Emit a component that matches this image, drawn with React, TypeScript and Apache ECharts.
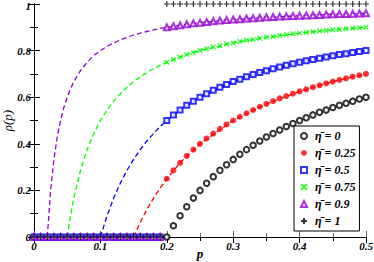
import React, { useEffect, useRef } from "react";
import * as echarts from "echarts";

const pValues = [
  0, 0.01, 0.02, 0.03, 0.04, 0.05, 0.06, 0.07, 0.08, 0.09,
  0.1, 0.11, 0.12, 0.13, 0.14, 0.15, 0.16, 0.17, 0.18, 0.19,
  0.2, 0.21, 0.22, 0.23, 0.24, 0.25, 0.26, 0.27, 0.28, 0.29,
  0.3, 0.31, 0.32, 0.33, 0.34, 0.35, 0.36, 0.37, 0.38, 0.39,
  0.4, 0.41, 0.42, 0.43, 0.44, 0.45, 0.46, 0.47, 0.48, 0.49, 0.5,
];

const rhoEta0 = [
  0, 0, 0, 0, 0, 0, 0, 0, 0, 0, 0, 0, 0, 0, 0, 0, 0, 0, 0, 0,
  0, 0.048, 0.091, 0.13, 0.167, 0.2, 0.231, 0.259, 0.286, 0.31,
  0.333, 0.355, 0.375, 0.394, 0.412, 0.429, 0.444, 0.459, 0.474, 0.487,
  0.5, 0.512, 0.524, 0.535, 0.545, 0.556, 0.565, 0.574, 0.583, 0.592, 0.6,
];
const rhoEta025 = [
  0, 0, 0, 0, 0, 0, 0, 0, 0, 0, 0, 0, 0, 0, 0, 0, 0, 0, 0, 0,
  0.25, 0.286, 0.318, 0.348, 0.375, 0.4, 0.423, 0.444, 0.464, 0.483,
  0.5, 0.516, 0.531, 0.545, 0.559, 0.571, 0.583, 0.595, 0.605, 0.615,
  0.625, 0.634, 0.643, 0.651, 0.659, 0.667, 0.674, 0.681, 0.688, 0.694, 0.7,
];
const rhoEta05 = [
  0, 0, 0, 0, 0, 0, 0, 0, 0, 0, 0, 0, 0, 0, 0, 0, 0, 0, 0, 0,
  0.5, 0.524, 0.545, 0.565, 0.583, 0.6, 0.615, 0.63, 0.643, 0.655,
  0.667, 0.677, 0.688, 0.697, 0.706, 0.714, 0.722, 0.73, 0.737, 0.744,
  0.75, 0.756, 0.762, 0.767, 0.773, 0.778, 0.783, 0.787, 0.792, 0.796, 0.8,
];
const rhoEta075 = [
  0, 0, 0, 0, 0, 0, 0, 0, 0, 0, 0, 0, 0, 0, 0, 0, 0, 0, 0, 0,
  0.75, 0.762, 0.773, 0.783, 0.792, 0.8, 0.808, 0.815, 0.821, 0.828,
  0.833, 0.839, 0.844, 0.848, 0.853, 0.857, 0.861, 0.865, 0.868, 0.872,
  0.875, 0.878, 0.881, 0.884, 0.886, 0.889, 0.891, 0.894, 0.896, 0.898, 0.9,
];
const rhoEta09 = [
  0, 0, 0, 0, 0, 0, 0, 0, 0, 0, 0, 0, 0, 0, 0, 0, 0, 0, 0, 0,
  0.9, 0.905, 0.909, 0.913, 0.917, 0.92, 0.923, 0.926, 0.929, 0.931,
  0.933, 0.935, 0.938, 0.939, 0.941, 0.943, 0.944, 0.946, 0.947, 0.949,
  0.95, 0.951, 0.952, 0.953, 0.955, 0.956, 0.957, 0.957, 0.958, 0.959, 0.96,
];
const rhoEta1 = [
  0, 0, 0, 0, 0, 0, 0, 0, 0, 0, 0, 0, 0, 0, 0, 0, 0, 0, 0, 0,
  1, 1, 1, 1, 1, 1, 1, 1, 1, 1,
  1, 1, 1, 1, 1, 1, 1, 1, 1, 1,
  1, 1, 1, 1, 1, 1, 1, 1, 1, 1, 1,
];

const theoryP = [
  0.02, 0.025, 0.03, 0.035, 0.04, 0.045, 0.05, 0.055, 0.06, 0.07,
  0.08, 0.09, 0.1, 0.11, 0.12, 0.13, 0.14, 0.15, 0.16, 0.17,
  0.18, 0.19, 0.2, 0.22, 0.25, 0.3, 0.35, 0.4, 0.45, 0.5,
];
const theoryEta09 = [
  0, 0.2, 0.333, 0.429, 0.5, 0.556, 0.6, 0.636, 0.667, 0.714,
  0.75, 0.778, 0.8, 0.818, 0.833, 0.846, 0.857, 0.867, 0.875, 0.882,
  0.889, 0.895, 0.9, 0.909, 0.92, 0.933, 0.943, 0.95, 0.956, 0.96,
];
const theoryEta075 = [
  null, null, null, null, null, null, 0, 0.091, 0.167, 0.286,
  0.375, 0.444, 0.5, 0.545, 0.583, 0.615, 0.643, 0.667, 0.688, 0.706,
  0.722, 0.737, 0.75, 0.773, 0.8, 0.833, 0.857, 0.875, 0.889, 0.9,
];
const theoryEta05 = [
  null, null, null, null, null, null, null, null, null, null,
  null, null, 0, 0.091, 0.167, 0.231, 0.286, 0.333, 0.375, 0.412,
  0.444, 0.474, 0.5, 0.545, 0.6, 0.667, 0.714, 0.75, 0.778, 0.8,
];
const theoryEta025 = [
  null, null, null, null, null, null, null, null, null, null,
  null, null, null, null, null, null, null, 0, 0.063, 0.118,
  0.167, 0.211, 0.25, 0.318, 0.4, 0.5, 0.571, 0.625, 0.667, 0.7,
];

const seriesNames = ["η\u0304 = 0", "η\u0304 = 0.25", "η\u0304 = 0.5", "η\u0304 = 0.75", "η\u0304 = 0.9", "η\u0304 = 1"];
const xTickLabels = ["0", "0.1", "0.2", "0.3", "0.4", "0.5"];
const yTickLabels = ["0", "0.2", "0.4", "0.6", "0.8", "1"];

const FONT = "'Liberation Serif', 'Times New Roman', serif";

function pairs(xs: number[], ys: (number | null)[]) {
  const out: number[][] = [];
  xs.forEach((x, i) => {
    const y = ys[i];
    if (y !== null && y !== undefined) out.push([x, y]);
  });
  return out;
}

export default function App() {
  const ref = useRef<HTMLDivElement>(null);
  useEffect(() => {
    if (!ref.current) return;
    const chart = echarts.init(ref.current, undefined, { renderer: "svg" });
    const labelStyle = {
      fontFamily: FONT,
      fontWeight: "bold" as const,
      fontStyle: "italic" as const,
      fontSize: 11,
      color: "#000",
    };
    const axisCommon = {
      type: "value" as const,
      splitLine: { show: false },
      axisLine: { show: true, lineStyle: { color: "#000", width: 1 } },
      axisTick: { show: true, inside: true, length: 6, lineStyle: { color: "#000" } },
      minorTick: { show: true, splitNumber: 2, length: 4, lineStyle: { color: "#000" } },
    };
    const dashed = (data: number[][], color: string) => ({
      type: "line" as const,
      data,
      showSymbol: false,
      symbol: "none",
      silent: true,
      smooth: false,
      z: 1,
      lineStyle: { color, width: 1.3, type: [5, 3] as any },
      xAxisIndex: 0,
      yAxisIndex: 0,
    });
    const scatter = (name: string, ys: number[], symbol: string, size: number, itemStyle: any) => ({
      type: "scatter" as const,
      name,
      data: pairs(pValues, ys),
      symbol,
      symbolSize: size,
      itemStyle,
      clip: false,
      z: 3,
      xAxisIndex: 0,
      yAxisIndex: 0,
    });
    chart.setOption({
      animation: false,
      backgroundColor: "#fff",
      grid: { left: 34, right: 8, top: 4, bottom: 25, containLabel: false, outerBoundsMode: "none" },
      xAxis: [
        {
          ...axisCommon,
          position: "bottom",
          min: 0,
          max: 0.5,
          interval: 0.1,
          axisLine: { show: true, lineStyle: { color: "#666", width: 1.2 } },
          axisTick: { show: true, inside: true, length: 6, lineStyle: { color: "#666" } },
          minorTick: { show: true, splitNumber: 2, length: 4, lineStyle: { color: "#666" } },
          axisLabel: {
            ...labelStyle,
            margin: 3,
            formatter: (v: number) => xTickLabels[Math.round(v * 10)] ?? "",
          },
          name: "p",
          nameLocation: "middle",
          nameGap: 10,
          nameMoveOverlap: false,
          nameTextStyle: { fontFamily: FONT, fontWeight: "bold", fontStyle: "italic", fontSize: 13, color: "#000" },
        },
        {
          ...axisCommon,
          position: "top",
          min: 0,
          max: 0.5,
          interval: 0.1,
          axisLabel: { show: false },
        },
      ],
      yAxis: [
        {
          ...axisCommon,
          position: "left",
          min: 0,
          max: 1,
          interval: 0.2,
          axisLabel: {
            ...labelStyle,
            margin: 3,
            formatter: (v: number) => {
              const idx = Math.round(v * 5);
              const t = yTickLabels[idx] ?? "";
              return idx === 5 ? "{top|" + t + "}" : t;
            },
            rich: {
              top: {
                fontFamily: FONT,
                fontWeight: "bold",
                fontStyle: "italic",
                fontSize: 11,
                color: "#000",
                padding: [4, 0, 0, 0],
              },
            },
          },
          name: "ρ(p)",
          nameLocation: "middle",
          nameGap: 20,
          nameMoveOverlap: false,
          nameRotate: 90,
          nameTextStyle: { fontFamily: FONT, fontStyle: "italic", fontSize: 13, color: "#000" },
        },
        {
          ...axisCommon,
          position: "right",
          min: 0,
          max: 1,
          interval: 0.2,
          axisLabel: { show: false },
        },
      ],
      legend: {
        orient: "vertical",
        left: 294,
        top: 126,
        padding: [4, 4, 4, 6],
        itemGap: 5,
        itemWidth: 6,
        itemHeight: 6,
        borderColor: "#000",
        borderWidth: 1,
        backgroundColor: "#fff",
        borderRadius: 0,
        data: seriesNames,
        textStyle: {
          fontFamily: FONT,
          fontWeight: "bold",
          fontStyle: "italic",
          fontSize: 12,
          color: "#000",
          padding: [0, 0, 0, 3],
        },
      },
      series: [
        dashed(pairs(theoryP, theoryEta025), "#ff0000"),
        dashed(pairs(theoryP, theoryEta05), "#0000ff"),
        dashed(pairs(theoryP, theoryEta075), "#00ff00"),
        dashed(pairs(theoryP, theoryEta09), "#9400d3"),
        scatter(seriesNames[0], rhoEta0, "emptyCircle", 5.5, { color: "#000", borderColor: "#000", borderWidth: 1.1 }),
        scatter(seriesNames[1], rhoEta025, "circle", 6, { color: "#ff0000" }),
        scatter(seriesNames[2], rhoEta05, "emptyRect", 5, { color: "#0000ff", borderColor: "#0000ff", borderWidth: 1.1 }),
        scatter(seriesNames[3], rhoEta075, "path://M0,0L10,10M10,0L0,10", 4.5, {
          color: "#00ff00",
          borderColor: "#00ff00",
          borderWidth: 1.4,
        }),
        scatter(seriesNames[4], rhoEta09, "emptyTriangle", 6, { color: "#9400d3", borderColor: "#9400d3", borderWidth: 1.1 }),
        scatter(seriesNames[5], rhoEta1, "path://M5,0L5,10M0,5L10,5", 6, {
          color: "#000",
          borderColor: "#000",
          borderWidth: 1.2,
        }),
      ],
    });
    return () => chart.dispose();
  }, []);
  return <div ref={ref} style={{ width: 374, height: 262, position: "absolute", left: 0, top: 0 }} />;
}
